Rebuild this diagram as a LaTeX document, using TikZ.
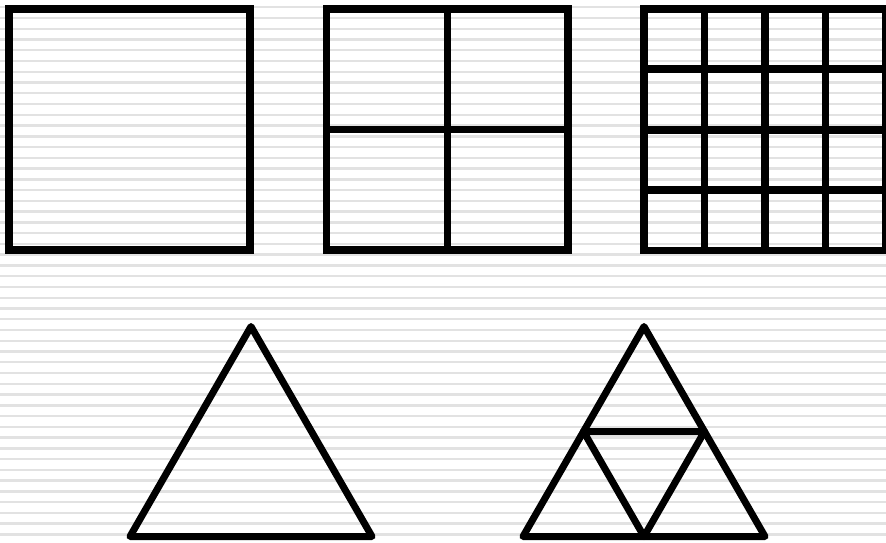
\documentclass[tikz,border=0pt]{standalone}
\definecolor{stripe}{RGB}{226,226,226}
\tikzset{
  sq/.style={line width=7.8pt, line join=miter, line cap=rect, draw=black},
  tri/.style={line width=7pt, line join=round, line cap=round, draw=black},
  bgline/.style={line width=2.4pt, draw=stripe}
}
\begin{document}
\begin{tikzpicture}[x=1pt,y=-1pt]
\useasboundingbox (0,0) rectangle (886,543);
\fill[white] (0,0) rectangle (886,543);
\begin{scope}
\clip (0,0) rectangle (886,543);
% background stripes
\foreach \k in {0,...,50} {
  \draw[bgline] (0,{7.2+\k*10.76}) -- (886,{7.2+\k*10.76});
}
% square 1
\draw[sq] (9,9) rectangle (250,250);
% square 2
\draw[sq] (326.5,9) rectangle (568,250);
\draw[sq,line cap=butt] (447.5,9) -- (447.5,250);
\draw[sq,line cap=butt] (326.5,129.5) -- (568,129.5);
% square 3 (4x4 grid, clipped at right)
\draw[sq] (644,9) rectangle (886,250.5);
\foreach \x in {704.5,765,825.5} {
  \draw[sq,line cap=butt] (\x,9) -- (\x,250.5);
}
\foreach \y in {69.4,129.8,190.2} {
  \draw[sq,line cap=butt] (644,\y) -- (886,\y);
}
% triangle 1
\draw[tri] (251,326.5) -- (372,536.5) -- (130,536.5) -- cycle;
% triangle 2
\draw[tri] (644,326.5) -- (765,536.5) -- (523,536.5) -- cycle;
\draw[tri] (583.5,431.5) -- (704.5,431.5) -- (644,536.5) -- cycle;
\end{scope}
\end{tikzpicture}
\end{document}
